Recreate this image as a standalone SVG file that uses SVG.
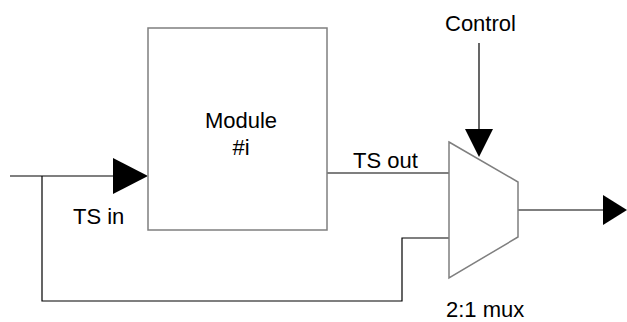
<svg xmlns="http://www.w3.org/2000/svg" width="627" height="322" viewBox="0 0 627 322">
<style>
.t{font-family:"Liberation Sans",Arial,sans-serif;font-size:22px;fill:#000}
.w{fill:none;stroke:#000;stroke-width:1.2}
.g{fill:#fff;stroke:#7f7f7f;stroke-width:1.5}
.ah{fill:#000;stroke:none}
</style>
<rect width="627" height="322" fill="#fff"/>
<g id="connectors">
<line class="w" x1="10" y1="176" x2="114" y2="176"/>
<polygon class="ah" points="113,158 148,176 113,194"/>
<polyline class="w" points="42,176 42,301 402,301 402,238 449,238"/>
<line class="w" x1="327" y1="173" x2="449" y2="173"/>
<line class="w" x1="479" y1="43" x2="479" y2="130"/>
<polygon class="ah" points="465,129 493,129 479,157"/>
<line class="w" x1="518" y1="210" x2="604" y2="210"/>
<polygon class="ah" points="603,195 627,210 603,225"/>
</g>
<g id="module">
<rect class="g" x="148" y="28" width="179" height="202"/>
<text class="t" x="241" y="128" text-anchor="middle">Module</text>
<text class="t" x="241" y="155" text-anchor="middle">#i</text>
</g>
<g id="mux">
<polygon class="g" points="449,142 518,182 518,237 449,278"/>
<text class="t" x="446" y="317">2:1 mux</text>
</g>
<g id="labels">
<text class="t" x="445" y="31">Control</text>
<text class="t" x="353" y="168">TS out</text>
<text class="t" x="73" y="224">TS in</text>
</g>
</svg>
